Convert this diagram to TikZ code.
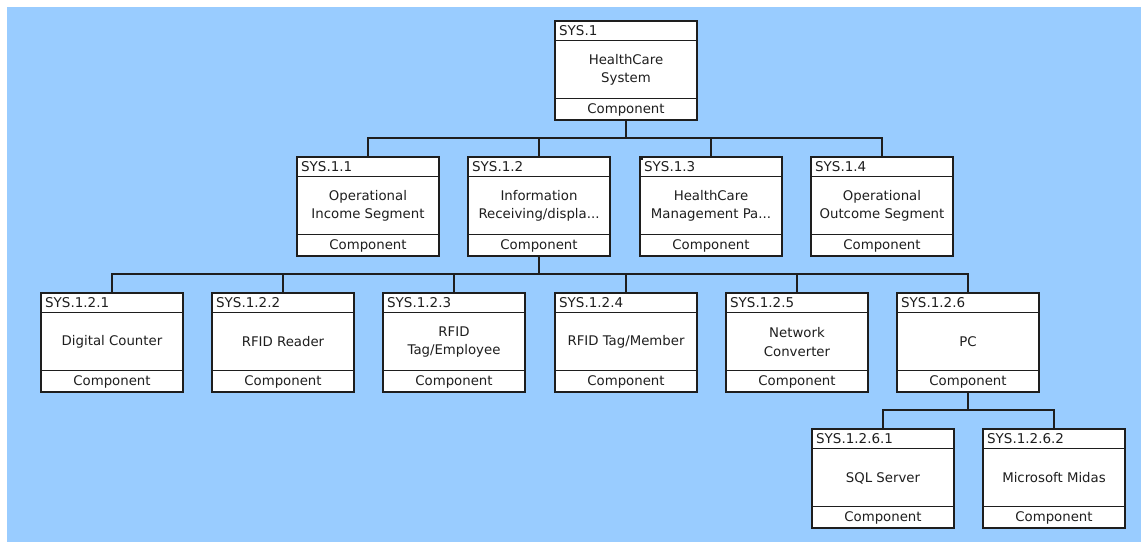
\documentclass[tikz,border=0pt]{standalone}
\usepackage{fontspec}
\setmainfont{DejaVu Sans}
\usetikzlibrary{calc}
\definecolor{bg}{HTML}{99CCFF}
\definecolor{ink}{HTML}{1E1E1E}
\tikzset{
  compbox/.style={draw=ink, fill=white, line width=1.1pt,
    minimum width=142pt, minimum height=99pt, inner sep=0pt},
  rule/.style={draw=ink, line width=1.1pt},
  idtext/.style={anchor=base west, inner sep=0pt, text=ink,
    font=\fontsize{13.5}{16}\selectfont},
  bodytext/.style={align=center, inner sep=0pt, text=ink,
    font=\fontsize{13.3}{18.5}\selectfont},
  link/.style={draw=ink, line width=1.1pt}
}
% \compnode{name}{position}{identifier}{title}
\newcommand\compnode[4]{%
  \node[compbox] (#1) at (#2) {};
  \draw[rule] ([yshift=-20pt]#1.north west) -- ([yshift=-20pt]#1.north east);
  \draw[rule] ([yshift=22pt]#1.south west) -- ([yshift=22pt]#1.south east);
  \node[idtext] (#1-id) at ([xshift=4.5pt,yshift=-15.5pt]#1.north west) {#3};
  \node[bodytext] (#1-body) at ([yshift=-49.5pt]#1.north) {#4};
  \node[bodytext] (#1-kind) at ([yshift=10.5pt]#1.south) {Component};
}
\begin{document}
\begin{tikzpicture}[x=1pt, y=-1pt]
  \useasboundingbox (0,0) rectangle (1141,542);
  \fill[bg] (7,7) rectangle (1141,542);

  % levels of the hierarchy
  \compnode{s1}{626,70.5}{SYS.1}{HealthCare\\System}

  \compnode{s11}{368,206.5}{SYS.1.1}{Operational\\Income Segment}
  \compnode{s12}{539,206.5}{SYS.1.2}{Information\\Receiving/displa...}
  \compnode{s13}{711,206.5}{SYS.1.3}{HealthCare\\Management Pa...}
  \compnode{s14}{882,206.5}{SYS.1.4}{Operational\\Outcome Segment}

  \compnode{s121}{112,342.5}{SYS.1.2.1}{Digital Counter}
  \compnode{s122}{283,342.5}{SYS.1.2.2}{RFID Reader}
  \compnode{s123}{454,342.5}{SYS.1.2.3}{RFID\\Tag/Employee}
  \compnode{s124}{626,342.5}{SYS.1.2.4}{RFID Tag/Member}
  \compnode{s125}{797,342.5}{SYS.1.2.5}{Network\\Converter}
  \compnode{s126}{968,342.5}{SYS.1.2.6}{PC}

  \compnode{s1261}{883,478.5}{SYS.1.2.6.1}{SQL Server}
  \compnode{s1262}{1054,478.5}{SYS.1.2.6.2}{Microsoft Midas}

  % selection marker
  \fill[ink] (s13.north west) rectangle ++(4,4);

  % bus heights of the tree connectors
  \coordinate (busA) at (0,138);
  \coordinate (busB) at (0,274);
  \coordinate (busC) at (0,410);

  \foreach \c in {s11,s12,s13,s14}
    \draw[link] (s1.south) -- (s1.south |- busA) -| (\c.north);
  \foreach \c in {s121,s122,s123,s124,s125,s126}
    \draw[link] (s12.south) -- (s12.south |- busB) -| (\c.north);
  \foreach \c in {s1261,s1262}
    \draw[link] (s126.south) -- (s126.south |- busC) -| (\c.north);
\end{tikzpicture}
\end{document}
